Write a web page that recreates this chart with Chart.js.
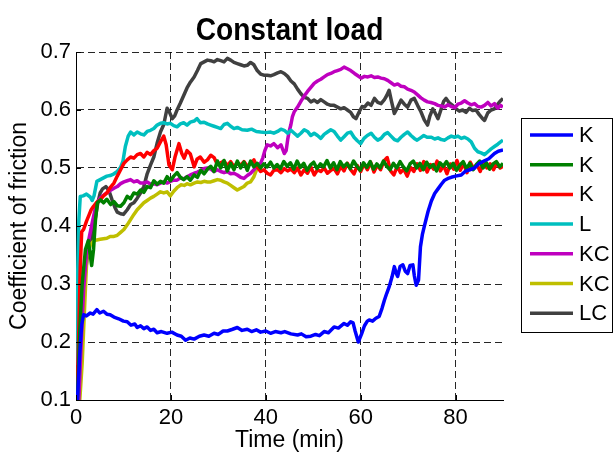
<!DOCTYPE html>
<html><head><meta charset="utf-8">
<script src="https://cdn.jsdelivr.net/npm/chart.js@4"></script>
<style>html,body{margin:0;padding:0;background:#fff}canvas{display:block}</style>
</head><body>
<canvas id="c" width="614" height="454"></canvas>
<script>
const chartTitle = "Constant load";
const xTitle = "Time (min)";
const yTitle = "Coefficient of friction";
const seriesLabels = ["K", "K", "K", "L", "KC", "KC", "LC"];
const seriesColors = ["#0000ff", "#008000", "#ff0000", "#00bfbf", "#bf00bf", "#bfbf00", "#404040"];
const xTicks = [0, 20, 40, 60, 80];
const yTicks = [0.1, 0.2, 0.3, 0.4, 0.5, 0.6, 0.7];

// [time (min), coefficient of friction]
const seriesK1 = [[0.3,0.10],[0.8,0.18],[1.2,0.23],[1.6,0.247],[2.2,0.245],[3.0,0.250],[3.6,0.248],[4.4,0.256],[5.0,0.250],[5.8,0.253],[6.5,0.248],[7.2,0.247],[8.0,0.243],[9.0,0.240],[10.0,0.236],[10.8,0.235],[11.6,0.229],[12.4,0.231],[12.9,0.225],[13.6,0.228],[14.3,0.223],[15.0,0.226],[15.7,0.220],[16.4,0.222],[17.1,0.216],[18.0,0.218],[19.2,0.215],[20.2,0.217],[21.3,0.212],[22.2,0.210],[23.1,0.203],[24.0,0.207],[24.9,0.205],[26.0,0.210],[27.0,0.212],[28.0,0.210],[29.1,0.215],[30.0,0.213],[31.0,0.219],[31.9,0.219],[33.0,0.222],[34.0,0.225],[35.0,0.220],[36.1,0.222],[37.0,0.218],[38.0,0.221],[38.9,0.217],[40.0,0.219],[41.0,0.215],[42.0,0.218],[43.2,0.216],[44.0,0.218],[45.3,0.214],[46.7,0.212],[47.5,0.214],[48.5,0.209],[49.5,0.210],[50.5,0.213],[51.3,0.211],[52.3,0.218],[53.2,0.216],[54.4,0.226],[55.3,0.224],[56.5,0.232],[57.2,0.229],[57.9,0.235],[58.4,0.233],[58.8,0.220],[59.5,0.200],[60.2,0.214],[60.8,0.228],[61.4,0.236],[61.8,0.238],[62.5,0.236],[63.2,0.241],[63.9,0.244],[64.5,0.258],[65.0,0.272],[65.5,0.284],[66.0,0.295],[66.6,0.312],[67.1,0.330],[67.5,0.318],[67.8,0.313],[68.3,0.330],[68.9,0.333],[69.4,0.322],[69.9,0.318],[70.4,0.332],[71.0,0.333],[71.3,0.315],[71.7,0.298],[72.2,0.307],[72.6,0.364],[73.0,0.385],[73.4,0.399],[74.2,0.425],[74.9,0.443],[75.6,0.456],[76.3,0.464],[77.0,0.472],[77.7,0.479],[78.4,0.482],[79.1,0.484],[80.0,0.486],[81.2,0.488],[82.0,0.494],[83.0,0.497],[84.0,0.500],[85.0,0.508],[86.0,0.512],[87.0,0.516],[88.2,0.525],[89.0,0.529],[90.0,0.531]];

const seriesK2 = [[0.3,0.10],[0.8,0.22],[1.3,0.30],[2.0,0.36],[2.6,0.375],[3.0,0.35],[3.3,0.332],[3.7,0.36],[4.1,0.41],[4.5,0.44],[5.2,0.445],[5.8,0.440],[6.5,0.446],[7.3,0.437],[8.0,0.442],[8.7,0.435],[9.4,0.434],[10.1,0.440],[10.8,0.451],[11.5,0.447],[12.2,0.457],[12.9,0.455],[13.6,0.462],[14.3,0.458],[15.0,0.468],[15.7,0.466],[16.4,0.478],[17.1,0.472],[17.8,0.477],[18.5,0.474],[19.2,0.485],[19.9,0.478],[20.6,0.486],[21.3,0.492],[22.0,0.484],[22.7,0.480],[23.4,0.485],[24.1,0.479],[24.9,0.488],[25.6,0.484],[26.3,0.496],[27.0,0.490],[27.7,0.498],[28.4,0.503],[29.1,0.494],[29.8,0.512],[30.5,0.500],[31.2,0.513],[31.9,0.495],[32.6,0.508],[33.3,0.497],[34.0,0.512],[34.7,0.500],[35.4,0.510],[36.1,0.496],[36.8,0.512],[37.5,0.502],[38.2,0.508],[38.9,0.500],[39.6,0.507],[40.3,0.502],[41.0,0.510],[41.7,0.500],[42.4,0.506],[43.1,0.499],[43.8,0.511],[44.5,0.503],[45.2,0.509],[45.9,0.498],[46.6,0.512],[47.3,0.501],[48.0,0.508],[48.7,0.496],[49.4,0.505],[50.1,0.510],[50.8,0.499],[51.5,0.507],[52.2,0.502],[52.9,0.513],[53.6,0.500],[54.3,0.509],[55.0,0.497],[55.7,0.511],[56.4,0.502],[57.1,0.508],[57.8,0.499],[58.5,0.512],[59.2,0.503],[59.9,0.496],[60.6,0.509],[61.3,0.501],[62.0,0.511],[62.7,0.498],[63.4,0.507],[64.1,0.500],[64.8,0.512],[65.5,0.503],[66.2,0.497],[66.9,0.508],[67.6,0.500],[68.3,0.511],[69.0,0.502],[69.7,0.495],[70.4,0.507],[71.1,0.512],[71.8,0.500],[72.5,0.508],[73.2,0.497],[73.9,0.510],[74.6,0.501],[75.3,0.506],[76.0,0.495],[76.7,0.509],[77.4,0.503],[78.1,0.511],[78.8,0.500],[79.5,0.508],[80.2,0.496],[80.9,0.505],[81.6,0.511],[82.3,0.499],[83.0,0.508],[83.7,0.497],[84.4,0.506],[85.1,0.512],[85.8,0.500],[86.5,0.509],[87.2,0.498],[87.9,0.507],[88.6,0.511],[89.3,0.502],[90.0,0.508]];

const seriesK3 = [[0.2,0.10],[0.6,0.22],[0.9,0.33],[1.2,0.39],[1.6,0.394],[2.2,0.408],[2.8,0.420],[3.2,0.428],[3.7,0.434],[4.4,0.441],[5.1,0.445],[5.8,0.452],[6.5,0.457],[7.2,0.466],[8.0,0.474],[8.7,0.486],[9.4,0.497],[10.1,0.508],[10.8,0.514],[11.5,0.519],[12.2,0.517],[12.9,0.523],[13.6,0.525],[14.3,0.519],[15.0,0.527],[15.7,0.523],[16.4,0.530],[17.1,0.534],[17.8,0.545],[18.5,0.555],[19.0,0.540],[19.6,0.505],[20.3,0.497],[20.9,0.520],[21.7,0.542],[22.3,0.525],[22.8,0.517],[23.4,0.530],[24.1,0.524],[24.9,0.502],[25.5,0.515],[26.2,0.519],[27.0,0.510],[27.7,0.514],[28.4,0.522],[29.1,0.518],[29.8,0.506],[30.5,0.509],[31.2,0.512],[31.9,0.504],[32.6,0.511],[33.3,0.502],[34.0,0.509],[34.7,0.505],[35.4,0.511],[36.1,0.503],[36.8,0.508],[37.5,0.514],[38.2,0.502],[38.9,0.494],[39.6,0.497],[40.3,0.491],[41.0,0.488],[41.7,0.496],[42.5,0.497],[43.2,0.492],[43.9,0.499],[44.6,0.495],[45.3,0.498],[46.0,0.492],[46.7,0.500],[47.4,0.488],[48.1,0.497],[48.8,0.491],[49.5,0.502],[50.2,0.488],[50.9,0.497],[51.6,0.494],[52.3,0.500],[53.0,0.491],[53.7,0.496],[54.4,0.499],[55.1,0.490],[55.8,0.503],[56.5,0.495],[57.2,0.508],[57.9,0.497],[58.6,0.490],[59.3,0.504],[60.0,0.494],[60.7,0.507],[61.4,0.497],[62.1,0.510],[62.8,0.493],[63.5,0.505],[64.2,0.497],[64.9,0.512],[65.6,0.518],[66.3,0.495],[67.0,0.488],[67.7,0.503],[68.4,0.492],[69.1,0.498],[69.8,0.486],[70.5,0.501],[71.2,0.494],[71.9,0.507],[72.6,0.496],[73.3,0.511],[74.0,0.493],[74.7,0.506],[75.4,0.498],[76.1,0.512],[76.8,0.495],[77.5,0.504],[78.2,0.490],[78.9,0.507],[79.6,0.498],[80.3,0.513],[81.0,0.496],[81.7,0.508],[82.4,0.492],[83.1,0.510],[83.8,0.499],[84.5,0.506],[85.2,0.494],[85.9,0.511],[86.6,0.500],[87.3,0.507],[88.0,0.497],[88.7,0.509],[89.4,0.500],[90.0,0.503]];

const seriesL = [[0.0,0.16],[0.3,0.30],[0.6,0.41],[0.9,0.451],[1.5,0.452],[2.2,0.455],[3.0,0.450],[3.4,0.444],[3.8,0.452],[4.4,0.477],[5.1,0.480],[5.8,0.483],[6.5,0.486],[7.2,0.487],[8.0,0.490],[8.7,0.494],[9.4,0.501],[9.9,0.512],[10.4,0.537],[11.0,0.555],[11.5,0.562],[12.2,0.557],[12.9,0.562],[13.6,0.559],[14.3,0.557],[15.0,0.563],[15.7,0.565],[16.4,0.568],[17.1,0.574],[17.8,0.577],[18.5,0.578],[19.2,0.576],[19.9,0.577],[20.6,0.573],[21.3,0.571],[22.0,0.576],[22.7,0.578],[23.4,0.574],[24.1,0.579],[24.9,0.581],[25.5,0.585],[26.2,0.578],[27.0,0.579],[27.7,0.576],[28.4,0.574],[29.1,0.572],[29.8,0.570],[30.5,0.568],[31.2,0.575],[31.9,0.577],[32.6,0.572],[33.3,0.568],[34.0,0.570],[35.0,0.566],[36.1,0.565],[37.0,0.567],[38.0,0.563],[38.9,0.562],[40.0,0.561],[41.0,0.562],[41.7,0.560],[42.5,0.563],[43.2,0.567],[43.9,0.565],[44.6,0.560],[45.3,0.565],[46.0,0.560],[46.7,0.555],[47.4,0.560],[48.1,0.566],[48.8,0.563],[49.5,0.556],[50.2,0.560],[50.9,0.556],[51.6,0.551],[52.3,0.558],[53.0,0.562],[53.7,0.566],[54.4,0.563],[55.1,0.555],[55.8,0.548],[56.5,0.554],[57.2,0.560],[57.9,0.562],[58.6,0.553],[59.3,0.547],[60.0,0.542],[60.7,0.551],[61.4,0.556],[62.2,0.560],[62.9,0.553],[63.6,0.548],[64.3,0.551],[65.0,0.558],[65.7,0.561],[66.4,0.555],[67.1,0.549],[67.8,0.547],[68.5,0.553],[69.2,0.558],[69.9,0.562],[70.6,0.556],[71.3,0.551],[71.9,0.548],[72.6,0.552],[73.3,0.556],[74.0,0.553],[74.9,0.553],[75.6,0.550],[76.3,0.552],[77.0,0.549],[77.7,0.548],[78.4,0.552],[79.1,0.555],[79.8,0.553],[80.5,0.555],[81.2,0.551],[81.9,0.553],[82.6,0.550],[83.3,0.545],[84.0,0.534],[84.7,0.528],[85.4,0.526],[86.1,0.523],[86.8,0.528],[87.5,0.533],[88.2,0.537],[88.9,0.541],[89.5,0.545],[90.0,0.548]];

const seriesKC1 = [[0.6,0.10],[1.0,0.18],[1.6,0.29],[2.2,0.35],[2.7,0.377],[3.4,0.405],[4.0,0.428],[4.4,0.440],[5.1,0.448],[5.8,0.453],[6.5,0.457],[7.2,0.461],[8.0,0.465],[8.7,0.468],[9.4,0.473],[10.1,0.476],[10.8,0.478],[11.5,0.480],[12.2,0.476],[12.9,0.478],[13.6,0.474],[14.3,0.474],[15.0,0.476],[15.7,0.472],[16.4,0.473],[17.1,0.471],[17.8,0.474],[18.5,0.476],[19.2,0.474],[19.9,0.477],[20.6,0.479],[21.3,0.479],[22.0,0.483],[22.7,0.481],[23.4,0.485],[24.1,0.488],[24.9,0.491],[25.6,0.493],[26.3,0.496],[27.0,0.499],[27.7,0.500],[28.4,0.498],[29.1,0.494],[29.8,0.497],[30.5,0.494],[31.2,0.492],[31.9,0.494],[32.6,0.490],[33.3,0.491],[34.0,0.488],[34.7,0.484],[35.4,0.482],[36.1,0.487],[36.8,0.491],[37.5,0.497],[38.2,0.503],[38.9,0.508],[39.4,0.518],[39.8,0.530],[40.3,0.540],[41.0,0.538],[41.7,0.542],[42.5,0.535],[43.2,0.540],[43.9,0.525],[44.3,0.530],[44.6,0.548],[44.9,0.562],[45.3,0.575],[45.6,0.588],[46.0,0.597],[46.7,0.605],[47.4,0.615],[48.1,0.624],[48.8,0.632],[49.5,0.639],[50.2,0.646],[50.9,0.650],[51.6,0.653],[52.3,0.657],[53.0,0.661],[53.7,0.663],[54.4,0.666],[55.1,0.668],[55.8,0.670],[56.5,0.674],[57.2,0.671],[57.9,0.668],[58.7,0.663],[59.4,0.659],[60.1,0.655],[60.8,0.658],[61.5,0.657],[62.2,0.659],[62.9,0.656],[63.6,0.657],[64.3,0.655],[65.0,0.654],[65.7,0.651],[66.4,0.647],[67.1,0.643],[67.8,0.645],[68.5,0.641],[69.2,0.640],[69.9,0.636],[70.6,0.634],[71.3,0.631],[72.0,0.626],[72.7,0.621],[73.4,0.617],[74.1,0.614],[74.8,0.613],[75.6,0.611],[76.3,0.608],[77.0,0.607],[77.7,0.605],[78.4,0.609],[79.1,0.606],[79.8,0.604],[80.5,0.610],[81.2,0.612],[81.9,0.616],[82.6,0.612],[83.3,0.609],[84.0,0.611],[84.7,0.606],[85.4,0.605],[86.1,0.608],[86.8,0.613],[87.5,0.607],[88.2,0.611],[88.9,0.603],[89.5,0.608],[90.0,0.605]];

const seriesKC2 = [[0.8,0.10],[1.3,0.163],[2.0,0.295],[2.3,0.347],[3.0,0.367],[3.7,0.374],[4.4,0.376],[5.1,0.377],[5.8,0.378],[6.5,0.379],[7.2,0.382],[8.0,0.382],[8.7,0.384],[9.4,0.389],[10.1,0.394],[10.8,0.402],[11.5,0.411],[12.2,0.420],[12.9,0.428],[13.6,0.434],[14.3,0.440],[15.0,0.444],[15.7,0.448],[16.4,0.451],[17.1,0.455],[17.8,0.459],[18.5,0.457],[19.2,0.459],[19.9,0.452],[20.6,0.460],[21.3,0.466],[22.1,0.471],[22.8,0.470],[23.4,0.473],[24.1,0.471],[24.9,0.474],[25.6,0.476],[26.3,0.475],[27.0,0.477],[27.7,0.476],[28.4,0.476],[29.1,0.478],[29.8,0.480],[30.5,0.479],[31.2,0.476],[31.9,0.474],[32.6,0.470],[33.3,0.466],[34.0,0.462],[34.7,0.465],[35.4,0.468],[36.1,0.474],[36.8,0.476],[37.5,0.485],[38.2,0.500],[39.0,0.508]];

const seriesLC = [[0.2,0.10],[0.5,0.18],[0.9,0.238],[1.6,0.295],[2.3,0.341],[3.0,0.370],[3.4,0.380],[4.1,0.415],[4.6,0.440],[5.1,0.457],[5.6,0.464],[6.3,0.468],[6.9,0.462],[7.6,0.445],[8.2,0.432],[8.7,0.424],[9.4,0.421],[10.0,0.420],[10.8,0.428],[11.5,0.437],[12.2,0.440],[12.9,0.448],[13.6,0.457],[14.3,0.468],[15.0,0.490],[15.7,0.505],[16.4,0.519],[17.1,0.543],[17.8,0.562],[18.5,0.575],[19.2,0.603],[19.6,0.598],[20.3,0.585],[20.8,0.590],[21.3,0.600],[22.0,0.612],[22.7,0.625],[23.4,0.638],[24.1,0.648],[24.9,0.657],[25.6,0.668],[26.3,0.680],[27.0,0.683],[27.7,0.686],[28.4,0.685],[29.1,0.683],[29.8,0.687],[30.5,0.685],[31.2,0.683],[31.9,0.689],[32.6,0.686],[33.3,0.682],[34.0,0.680],[34.7,0.678],[35.4,0.676],[36.1,0.677],[36.8,0.682],[37.5,0.678],[38.2,0.668],[38.9,0.662],[39.6,0.660],[40.3,0.660],[41.0,0.659],[41.7,0.661],[42.5,0.664],[43.2,0.666],[43.9,0.663],[44.6,0.658],[45.3,0.650],[46.0,0.645],[46.7,0.636],[47.4,0.628],[48.1,0.622],[48.8,0.620],[49.5,0.614],[50.2,0.617],[50.9,0.613],[51.6,0.618],[52.3,0.614],[53.0,0.610],[53.7,0.608],[54.4,0.608],[55.1,0.605],[55.8,0.602],[56.5,0.604],[57.2,0.600],[57.9,0.596],[58.5,0.588],[59.0,0.585],[59.7,0.597],[60.3,0.606],[60.8,0.605],[61.5,0.612],[62.2,0.608],[62.9,0.620],[63.6,0.613],[64.3,0.611],[65.0,0.618],[65.5,0.625],[66.0,0.634],[66.5,0.615],[67.1,0.594],[67.8,0.605],[68.5,0.617],[69.2,0.610],[69.9,0.605],[70.6,0.617],[71.3,0.620],[72.0,0.608],[72.7,0.597],[73.4,0.583],[74.1,0.574],[74.6,0.590],[75.2,0.602],[75.7,0.595],[76.3,0.585],[76.9,0.600],[77.5,0.615],[78.0,0.620],[78.7,0.612],[79.4,0.608],[80.1,0.602],[80.8,0.598],[81.5,0.600],[82.2,0.596],[82.9,0.603],[83.6,0.599],[84.3,0.600],[85.0,0.592],[85.7,0.585],[86.1,0.582],[86.8,0.595],[87.5,0.600],[88.2,0.602],[88.9,0.610],[89.5,0.616],[90.0,0.620]];

const allSeries = [seriesK1, seriesK2, seriesK3, seriesL, seriesKC1, seriesKC2, seriesLC];

const FONT = "'Liberation Sans', Arial, Helvetica, sans-serif";

const titlePlugin = {
  id: 'matlabTitle',
  afterDraw(chart) {
    const ctx = chart.ctx, a = chart.chartArea;
    ctx.save();
    ctx.fillStyle = '#000';
    ctx.font = 'bold 32px ' + FONT;
    ctx.textAlign = 'center';
    ctx.textBaseline = 'alphabetic';
    ctx.translate((a.left + a.right) / 2, 40);
    ctx.scale(0.88, 1);
    ctx.fillText(chartTitle, 0, 0);
    ctx.restore();
  }
};

const tickPlugin = {
  id: 'innerTicks',
  afterDatasetsDraw(chart) {
    const ctx = chart.ctx, a = chart.chartArea;
    const xs = chart.scales.x, ys = chart.scales.y;
    ctx.save();
    ctx.strokeStyle = '#000';
    ctx.lineWidth = 1;
    ctx.beginPath();
    xTicks.forEach(v => { const x = Math.round(xs.getPixelForValue(v)) + 0.5; ctx.moveTo(x, a.bottom); ctx.lineTo(x, a.bottom - 5); });
    yTicks.forEach(v => { const y = Math.round(ys.getPixelForValue(v)) + 0.5; ctx.moveTo(a.left, y); ctx.lineTo(a.left + 5, y); });
    ctx.stroke();
    ctx.restore();
  }
};

const legendPlugin = {
  id: 'boxLegend',
  afterDraw(chart) {
    const ctx = chart.ctx;
    const bx = 521.5, by = 118.5, bw = 91, bh = 214;
    const y0 = 135, dy = 29.7;
    ctx.save();
    ctx.fillStyle = '#fff';
    ctx.fillRect(bx, by, bw, bh);
    ctx.strokeStyle = '#000';
    ctx.lineWidth = 1;
    ctx.strokeRect(bx, by, bw, bh);
    chart.data.datasets.forEach((ds, i) => {
      const y = y0 + i * dy;
      ctx.strokeStyle = ds.borderColor;
      ctx.lineWidth = 3.5;
      ctx.beginPath();
      ctx.moveTo(530, y);
      ctx.lineTo(573, y);
      ctx.stroke();
      ctx.fillStyle = '#000';
      ctx.font = '22px ' + FONT;
      ctx.textAlign = 'left';
      ctx.textBaseline = 'middle';
      ctx.fillText(ds.label, 579, y + 1);
    });
    ctx.restore();
  }
};

new Chart(document.getElementById('c'), {
  type: 'line',
  data: {
    datasets: allSeries.map((s, i) => ({
      label: seriesLabels[i],
      data: s.map(p => ({x: p[0], y: p[1]})),
      borderColor: seriesColors[i],
      backgroundColor: seriesColors[i],
      borderWidth: 3.5,
      pointRadius: 0,
      tension: 0,
      fill: false,
      borderJoinStyle: 'round'
    }))
  },
  options: {
    responsive: false,
    animation: false,
    devicePixelRatio: 1,
    layout: { padding: { top: 52, right: 111, left: 0, bottom: 0 } },
    plugins: { legend: { display: false }, title: { display: false }, tooltip: { enabled: false } },
    scales: {
      x: {
        type: 'linear', min: 0, max: 90,
        afterFit(s) { s.height = 54; },
        afterBuildTicks(s) { s.ticks = xTicks.map(v => ({value: v})); },
        ticks: { font: { family: FONT, size: 22 }, color: '#000', padding: 5, maxRotation: 0, autoSkip: false },
        grid: { color: 'rgba(0,0,0,0.85)', lineWidth: 1, drawTicks: false },
        border: { display: true, color: '#000', width: 1, dash: [7, 4] },
        title: { display: true, text: xTitle, color: '#000', font: { family: FONT, size: 23 }, padding: { top: 0, bottom: 0 } }
      },
      y: {
        type: 'linear', min: 0.1, max: 0.7,
        afterFit(s) { s.width = 76; },
        afterBuildTicks(s) { s.ticks = yTicks.map(v => ({value: v})); },
        ticks: { font: { family: FONT, size: 22 }, color: '#000', padding: 5, callback: v => v.toFixed(1) },
        grid: { color: 'rgba(0,0,0,0.85)', lineWidth: 1, drawTicks: false },
        border: { display: true, color: '#000', width: 1, dash: [7, 4] },
        title: { display: true, text: yTitle, color: '#000', font: { family: FONT, size: 23 }, padding: { top: 6, bottom: 0 } }
      }
    }
  },
  plugins: [titlePlugin, tickPlugin, legendPlugin]
});
</script>
</body></html>
